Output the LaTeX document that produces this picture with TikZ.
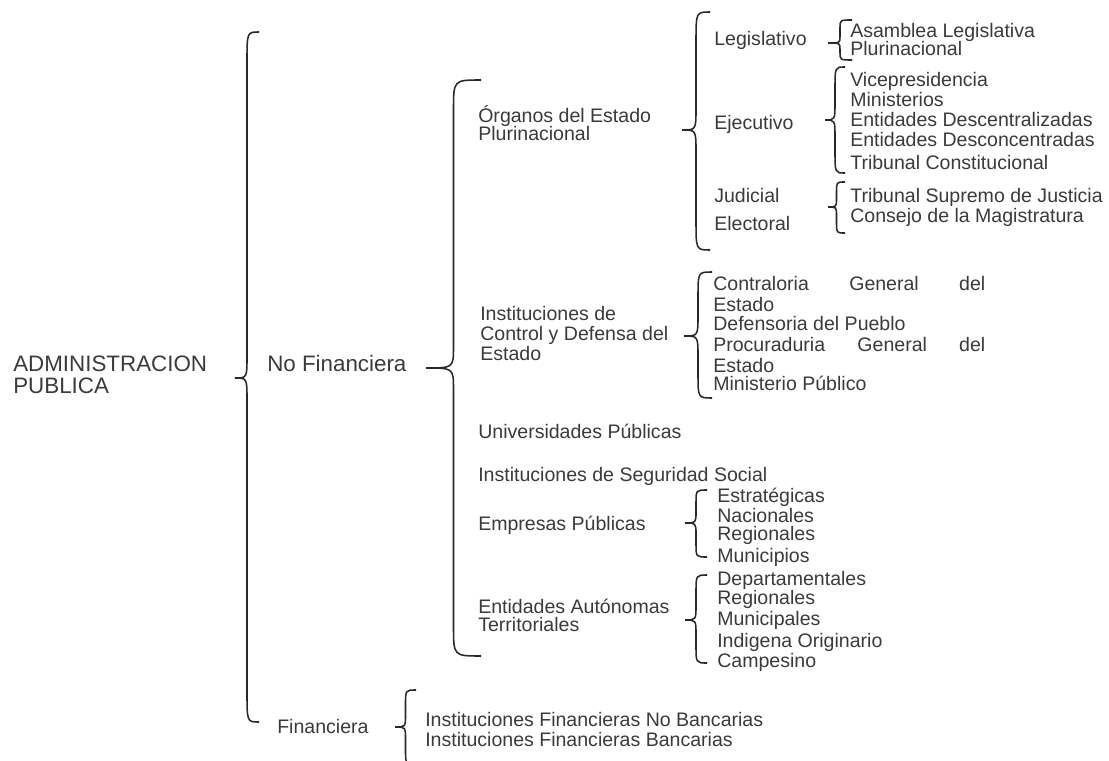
\documentclass[tikz,border=0pt]{standalone}
\usepackage{fontspec}
\setmainfont{Liberation Sans}
\definecolor{tinta}{RGB}{58,58,58}
\definecolor{trazo}{RGB}{40,40,40}
\tikzset{
  texto/.style={anchor=west, inner sep=0pt, text height=10pt, text depth=0pt, text=tinta, font=\fontsize{13.9}{15}\selectfont},
  grande/.style={texto, text height=11.4pt, font=\fontsize{15.9}{18}\selectfont},
  trazo/.style={draw=trazo, line width=1.1pt}
}
% llave: x de los extremos, y arriba, y abajo, y de la punta, ancho
\newcommand{\llave}[5]{%
  \pgfmathsetmacro{\llR}{min(30,(#3-#2)/5)}%
  \pgfmathsetmacro{\llP}{min(22,(#3-#2)/6)}%
  \pgfmathsetmacro{\llM}{#1-#5/2}%
  \pgfmathsetmacro{\llT}{#1-#5}%
  \draw[trazo] (#1,#2) .. controls (\llM,#2) .. (\llM,#2+\llR) -- (\llM,#4-\llP)
    .. controls (\llM,#4) .. (\llT,#4) .. controls (\llM,#4) .. (\llM,#4+\llP)
    -- (\llM,#3-\llR) .. controls (\llM,#3) .. (#1,#3);
}
\begin{document}
\begin{tikzpicture}
[x=0.025cm, y=-0.025cm]
\useasboundingbox (0,0) rectangle (1109,761);
\clip (0,0) rectangle (1109,761);
% nivel 1
\node [grande] (adm1) at (13,363) {ADMINISTRACION};
\node [grande] (adm2) at (13,385) {PUBLICA};
\llave{259}{32}{722}{378}{24}
\node [grande] (nofin) at (267,363) {No Financiera};
\node [texto] (fin) at (277,726) {Financiera};
% no financiera
\llave{481}{80}{656}{368}{55}
\node [texto] (org1) at (478,115) {Órganos del Estado};
\node [texto] (org2) at (478,133) {Plurinacional};
\node [texto] (ctrl1) at (480,313) {Instituciones de};
\node [texto] (ctrl2) at (480,333) {Control y Defensa del};
\node [texto] (ctrl3) at (480,353) {Estado};
\node [texto] (univ) at (478,431) {Universidades Públicas};
\node [texto] (segu) at (478,474) {Instituciones de Seguridad Social};
\node [texto] (emp) at (478,523) {Empresas Públicas};
\node [texto] (ent1) at (478,606) {Entidades Autónomas};
\node [texto] (ent2) at (478,624) {Territoriales};
% organos del estado
\llave{710}{12}{250}{130}{28}
\node [texto] (leg) at (714,38) {Legislativo};
\node [texto] (eje) at (714,122) {Ejecutivo};
\node [texto] (jud) at (714,195) {Judicial};
\node [texto] (elec) at (714,223) {Electoral};
\llave{852}{20}{60}{43}{24}
\node [texto] (asam1) at (850,30) {Asamblea Legislativa};
\node [texto] (asam2) at (850,48) {Plurinacional};
\llave{845}{67}{173}{120}{20}
\node [texto] (vice) at (850,79) {Vicepresidencia};
\node [texto] (minis) at (850,99) {Ministerios};
\node [texto] (desce) at (850,119) {Entidades Descentralizadas};
\node [texto] (desco) at (850,139) {Entidades Desconcentradas};
\node [texto] (tcons) at (850,162) {Tribunal Constitucional};
\llave{845}{182}{233}{207}{17}
\node [texto] (tsup) at (850,195) {Tribunal Supremo de Justicia};
\node [texto] (cmag) at (850,215) {Consejo de la Magistratura};
% control y defensa
\llave{712}{272}{398}{336}{28}
\node [texto] (contra) at (713,283) {\makebox[6.8cm][s]{Contraloria General del}};
\node [texto] (est1) at (713,304) {Estado};
\node [texto] (defen) at (713,323) {Defensoria del Pueblo};
\node [texto] (procu) at (713,344) {\makebox[6.8cm][s]{Procuraduria General del}};
\node [texto] (est2) at (713,365) {Estado};
\node [texto] (minp) at (713,383) {Ministerio Público};
% empresas
\llave{707}{490}{557}{523}{22}
\node [texto] (estr) at (717,495) {Estratégicas};
\node [texto] (naci) at (717,515) {Nacionales};
\node [texto] (regi) at (717,533) {Regionales};
\node [texto] (muni) at (717,555) {Municipios};
% entidades autonomas
\llave{707}{575}{663}{620}{22}
\node [texto] (depa) at (717,578) {Departamentales};
\node [texto] (regi2) at (717,597) {Regionales};
\node [texto] (munc) at (717,618) {Municipales};
\node [texto] (indi) at (717,640) {Indigena Originario};
\node [texto] (camp) at (717,660) {Campesino};
% financiera
\llave{416}{690}{764}{727}{21}
\node [texto] (ifnb) at (425,719) {Instituciones Financieras No Bancarias};
\node [texto] (ifb) at (425,739) {Instituciones Financieras Bancarias};
\end{tikzpicture}
\end{document}
